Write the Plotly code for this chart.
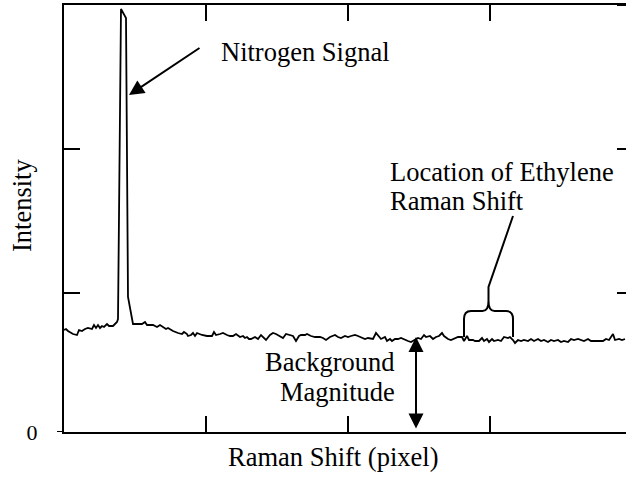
import plotly.graph_objects as go

# Raman spectrum (detector pixel vs. intensity, arbitrary units)
pixel = [0, 2, 4, 9, 13, 15, 18, 21, 24, 28, 30, 32, 34, 36, 38, 40, 43, 45, 49, 53, 54,
         57, 62, 64, 69, 73, 78, 81, 83, 89, 93, 96, 99, 102, 104, 109, 114, 118, 120, 123,
         124, 127, 129, 131, 133, 138, 143, 148, 150, 152, 156, 159, 163, 166, 169, 172, 176,
         179, 181, 183, 185, 187, 191, 194, 197, 199, 202, 206, 209, 212, 216, 219, 222, 226,
         229, 232, 235, 237, 241, 243, 247, 251, 256, 259, 262, 266, 269, 271, 274, 277, 281,
         284, 287, 291, 294, 297, 301, 304, 309, 312, 315, 317, 321, 323, 326, 328, 331, 334,
         337, 341, 344, 347, 351, 354, 357, 360, 362, 366, 369, 372, 375, 378, 380, 384, 387,
         390, 394, 398, 400, 403, 405, 409, 411, 415, 418, 420, 423, 425, 428, 430, 434, 437,
         440, 444, 446, 449, 451, 454, 457, 460, 464, 467, 470, 474, 477, 480, 484, 487, 490,
         494, 497, 500, 504, 507, 510, 514, 517, 520, 524, 527, 530, 535, 539, 542, 545, 549,
         551, 555, 558, 561]
intensity = [102, 103, 101, 98, 97, 102, 101, 103, 104, 103, 107, 104, 107, 104, 106, 105, 108,
             106, 106, 110, 113, 423, 414, 135, 108, 108, 108, 110, 107, 107, 105, 107, 105, 103,
             104, 101, 99, 98, 100, 98, 96, 97, 99, 96, 99, 97, 96, 96, 100, 97, 98, 99, 97, 96,
             96, 98, 95, 96, 94, 95, 93, 93, 95, 93, 97, 95, 92, 97, 99, 98, 96, 94, 98, 97, 96,
             91, 96, 97, 97, 98, 96, 95, 95, 94, 92, 95, 96, 97, 95, 94, 96, 95, 96, 97, 96, 95,
             93, 94, 93, 99, 95, 93, 95, 91, 93, 91, 93, 93, 94, 92, 91, 90, 92, 94, 93, 97, 95,
             96, 93, 95, 96, 99, 96, 93, 92, 93, 95, 95, 91, 96, 92, 92, 91, 91, 94, 91, 93, 90,
             93, 91, 92, 91, 95, 94, 95, 92, 89, 92, 91, 92, 91, 93, 91, 93, 91, 92, 90, 92, 91,
             92, 90, 91, 90, 93, 92, 93, 92, 91, 93, 91, 91, 91, 91, 93, 92, 98, 92, 93, 92, 93]

x_ticks = [0, 142, 284, 426]
y_ticks = [0, 139, 283, 427]
y_ticktext = ["0", "", "", ""]

FONT = "Liberation Serif"
TXT = 26.5

fig = go.Figure()
fig.add_trace(go.Scatter(x=pixel, y=intensity, mode="lines",
                         line=dict(color="black", width=1.8), hoverinfo="skip",
                         showlegend=False))

# Annotation anchor points (data coordinates)
n2_tip = (65, 337)
n2_tail = (137, 385)
bg_x = 352
bg_top = 95
bg_bot = 2
brace_l, brace_r, brace_c = 400, 449, 424.5
brace_bot, brace_mid, brace_cusp = 95, 121, 145
leader_end = (449, 216)

annotations = [
    # Nitrogen arrow + text
    dict(x=n2_tip[0], y=n2_tip[1], ax=n2_tail[0], ay=n2_tail[1], axref="x", ayref="y",
         text="", showarrow=True, arrowhead=2, arrowsize=1.5, arrowwidth=2, arrowcolor="black"),
    dict(x=155, y=380, text="Nitrogen Signal", showarrow=False, xanchor="left", yanchor="middle",
         font=dict(family=FONT, size=TXT, color="black")),
    # Ethylene text (two lines)
    dict(x=324, y=260.5, text="Location of Ethylene", showarrow=False, xanchor="left",
         yanchor="middle", font=dict(family=FONT, size=TXT, color="black")),
    dict(x=324, y=231.5, text="Raman Shift", showarrow=False, xanchor="left",
         yanchor="middle", font=dict(family=FONT, size=TXT, color="black")),
    # Background magnitude
    dict(x=bg_x, y=bg_top, ax=bg_x, ay=bg_bot, axref="x", ayref="y", text="", showarrow=True,
         arrowhead=2, startarrowhead=2, arrowside="end+start", arrowsize=1.5, startarrowsize=1.5,
         arrowwidth=2, arrowcolor="black"),
    dict(x=333, y=70.5, text="Background", showarrow=False, xanchor="right", yanchor="middle",
         font=dict(family=FONT, size=TXT, color="black")),
    dict(x=333, y=40.5, text="Magnitude", showarrow=False, xanchor="right", yanchor="middle",
         font=dict(family=FONT, size=TXT, color="black")),
    # Axis titles
    dict(xref="paper", yref="paper", x=(333 - 64) / 562, y=0, yshift=-25, text="Raman Shift (pixel)",
         showarrow=False, xanchor="center", yanchor="middle",
         font=dict(family=FONT, size=TXT, color="black")),
    dict(xref="paper", yref="paper", x=0, xshift=-42, y=(432 - 206) / 427, text="Intensity",
         textangle=-90, showarrow=False, xanchor="center", yanchor="middle",
         font=dict(family=FONT, size=TXT, color="black")),
]

brace_path = (
    f"M{brace_l},{brace_bot} L{brace_l},{brace_mid-8} Q{brace_l},{brace_mid} {brace_l+7},{brace_mid} "
    f"L{brace_c-6},{brace_mid} Q{brace_c},{brace_mid} {brace_c},{brace_mid+10} L{brace_c},{brace_cusp} "
    f"L{leader_end[0]},{leader_end[1]} "
    f"M{brace_c},{brace_mid+10} Q{brace_c},{brace_mid} {brace_c+6},{brace_mid} "
    f"L{brace_r-7},{brace_mid} Q{brace_r},{brace_mid} {brace_r},{brace_mid-8} L{brace_r},{brace_bot}"
)

shapes = [dict(type="path", path=brace_path, xref="x", yref="y",
               line=dict(color="black", width=2))]
# right-side inward ticks (axis itself lies just beyond the visible frame)
for yt in y_ticks[1:]:
    shapes.append(dict(type="line", xref="paper", yref="y", xsizemode="pixel", xanchor=1,
                       x0=-9, x1=0, y0=yt, y1=yt, line=dict(color="black", width=2)))
# small extension of the x axis line to the left of the origin
shapes.append(dict(type="line", xref="paper", yref="y", xsizemode="pixel", xanchor=0,
                   x0=-7, x1=0, y0=0, y1=0, line=dict(color="black", width=2)))

fig.update_layout(
    width=626, height=477,
    margin=dict(l=64, r=0, t=5, b=45),
    paper_bgcolor="white", plot_bgcolor="white",
    showlegend=False,
    font=dict(family=FONT, color="black"),
    annotations=annotations,
    shapes=shapes,
    xaxis=dict(range=[0, 562], tickvals=x_ticks, showticklabels=False, ticks="inside",
               ticklen=16, tickwidth=2, tickcolor="black", showline=True, linewidth=2,
               linecolor="black", mirror="ticks", showgrid=False, zeroline=False),
    yaxis=dict(range=[0, 427], tickvals=y_ticks, ticktext=y_ticktext, ticks="inside",
               ticklen=16, tickwidth=2, tickcolor="black", showline=True, linewidth=2,
               linecolor="black", mirror=False, showgrid=False, zeroline=False,
               tickfont=dict(family=FONT, size=22, color="black"), ticklabelstandoff=20),
)

fig.write_html("out.html", config={"displayModeBar": False},
               post_script="document.body.style.margin='0';document.body.style.overflow='hidden';")
